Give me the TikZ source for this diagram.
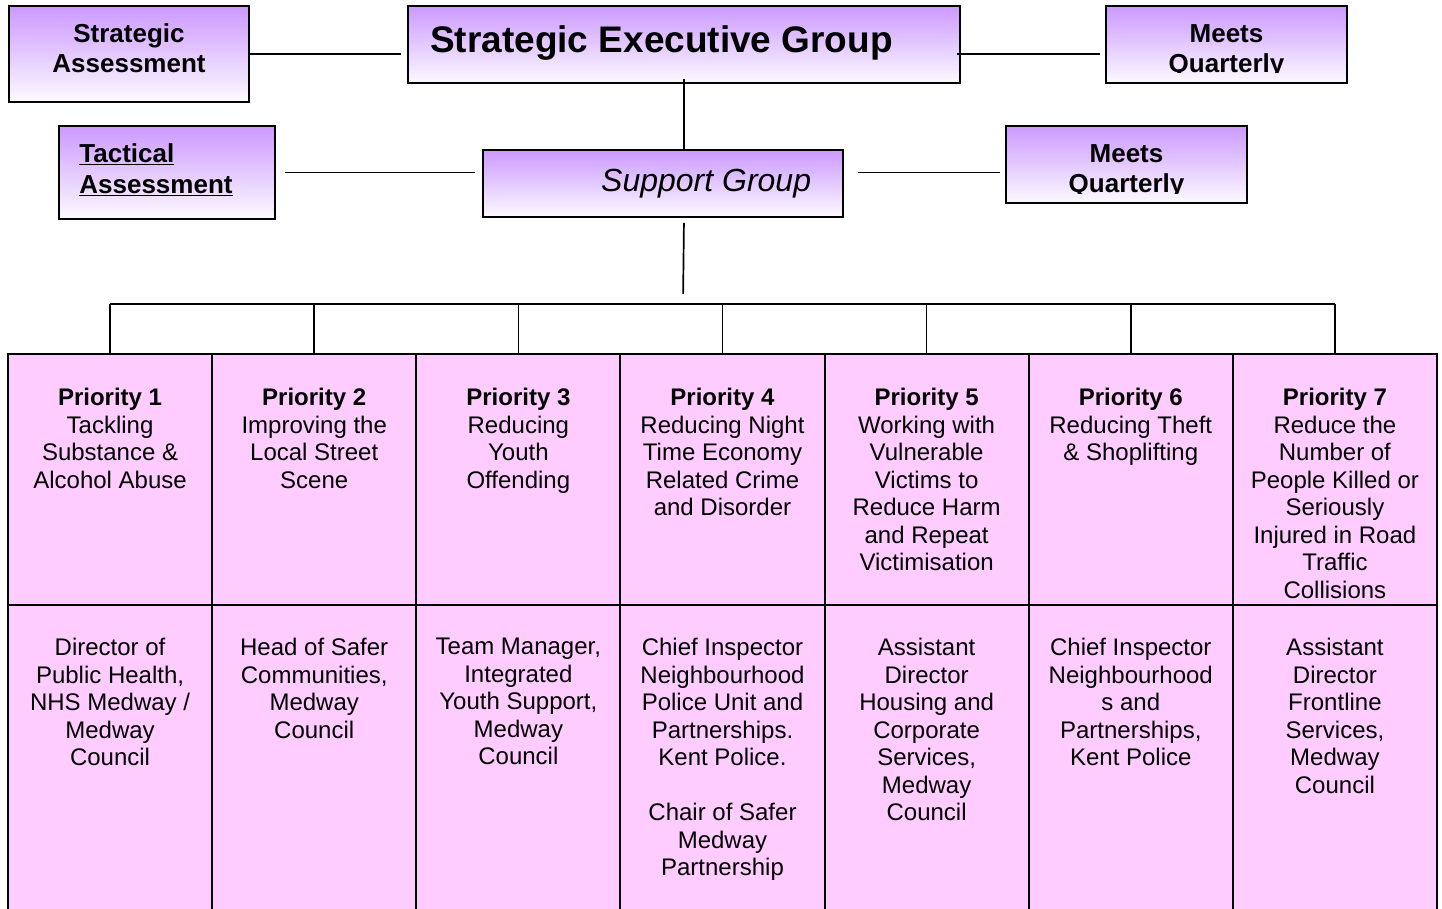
\documentclass[tikz,border=0pt]{standalone}
\usepackage{fontspec}
\setmainfont{Liberation Sans}
\usetikzlibrary{positioning}
\definecolor{lilac}{RGB}{204,153,255}
\definecolor{paleLilac}{RGB}{252,250,255}
\definecolor{cellPink}{RGB}{255,204,255}

\begin{document}
\begin{tikzpicture}[x=1pt,y=-1pt,
  gbox/.style={draw,line width=1.6pt,top color=lilac,bottom color=paleLilac,inner sep=0pt},
  link/.style={line width=1.7pt},
  cell/.style={draw,line width=2pt,fill=cellPink,minimum width=204.14,inner sep=0pt},
  celltext/.style={anchor=north,align=center,inner sep=0pt,font=\fontsize{24}{27.5}\selectfont},
  boxtext/.style={anchor=north,align=center,inner sep=0pt,font=\fontsize{26}{30}\selectfont\bfseries}]
  \useasboundingbox (0,0) rectangle (1442,909);
  \clip (0,0) rectangle (1442,909);

  \node[gbox,minimum width=240,minimum height=96] (sa) at (129,54) {};
  \node[gbox,minimum width=552,minimum height=77] (seg) at (684,44.5) {};
  \node[gbox,minimum width=241,minimum height=77] (mq1) at (1226.5,44.5) {};
  \node[gbox,minimum width=216,minimum height=93] (ta) at (167,172.5) {};
  \node[gbox,minimum width=360,minimum height=67] (sg) at (663,183.5) {};
  \node[gbox,minimum width=241,minimum height=77] (mq2) at (1126.5,164.5) {};

  \node[boxtext] (satext) at ([yshift=-18.5pt]sa.north) {Strategic\\Assessment};
  \node[anchor=base west,inner sep=0pt,font=\fontsize{37}{41}\selectfont\bfseries] (segtext) at (430,53) {Strategic Executive Group};
  \node[boxtext,anchor=north west,align=left,font=\fontsize{26}{31}\selectfont\bfseries] (tatext)
    at ([xshift=21pt,yshift=-18.3pt]ta.north west) {\underline{Tactical}\\\underline{Assessment}};
  \node[anchor=base west,inner sep=0pt,font=\fontsize{32}{36}\selectfont\itshape] (sgtext) at (601,192) {Support Group};
  \begin{scope}
    \clip (mq1.north west) rectangle ([yshift=11.5pt]mq1.south east);
    \node[boxtext] (mq1text) at ([yshift=-19.7pt]mq1.north) {Meets\\Quarterly};
  \end{scope}
  \begin{scope}
    \clip (mq2.north west) rectangle ([yshift=10.5pt]mq2.south east);
    \node[boxtext] (mq2text) at ([yshift=-19.7pt]mq2.north) {Meets\\Quarterly};
  \end{scope}

  \draw[link,shorten >=6pt] (sa.east) -- (sa.east -| seg.west);
  \draw[link,shorten <=-4pt,shorten >=5pt] (seg.east |- sa.east) -- (mq1.west |- sa.east);
  \draw[link,shorten <=-5pt] (seg.south) -- (seg.south |- sg.north);
  \draw[link,shorten <=9pt,shorten >=7pt] (ta.east) -- (ta.east -| sg.west);
  \draw[link,shorten <=14pt,shorten >=5pt] (sg.east |- ta.east) -- (mq2.west |- ta.east);

  \coordinate (bus) at (683,304);
  \draw[link,shorten <=5pt,shorten >=10pt] (seg.south |- sg.south) -- (bus);

  \foreach \i/\aim/\lead in {
    1/{Tackling\\Substance \&\\Alcohol Abuse}/{Director of\\Public Health,\\NHS Medway /\\Medway\\Council},
    2/{Improving the\\Local Street\\Scene}/{Head of Safer\\Communities,\\Medway\\Council},
    3/{Reducing\\Youth\\Offending}/{Team Manager,\\Integrated\\Youth Support,\\Medway\\Council},
    4/{Reducing Night\\Time Economy\\Related Crime\\and Disorder}/{Chief Inspector\\Neighbourhood\\Police Unit and\\Partnerships.\\Kent Police.\\[27.5pt]Chair of Safer\\Medway\\Partnership},
    5/{Working with\\Vulnerable\\Victims to\\Reduce Harm\\and Repeat\\Victimisation}/{Assistant\\Director\\Housing and\\Corporate\\Services,\\Medway\\Council},
    6/{Reducing Theft\\\& Shoplifting}/{Chief Inspector\\Neighbourhood\\s and\\Partnerships,\\Kent Police},
    7/{Reduce the\\Number of\\People Killed or\\Seriously\\Injured in Road\\Traffic\\Collisions}/{Assistant\\Director\\Frontline\\Services,\\Medway\\Council}} {
    \node[cell,minimum height=251] (p\i) at ({8+(\i-0.5)*204.14},479.5) {};
    \node[cell,minimum height=355] (r\i) at ({8+(\i-0.5)*204.14},782.5) {};
    \node[celltext] (p\i text) at ([yshift=-35pt]p\i.north) {\textbf{Priority \i}\\\aim};
    \node[celltext] (r\i text) at ([yshift=-34pt]r\i.north) {\lead};
    \draw[link] (p\i.north) -- (p\i.north |- bus);
  }
  \draw[link] (p1.north |- bus) -- (p7.north |- bus);
\end{tikzpicture}
\end{document}
